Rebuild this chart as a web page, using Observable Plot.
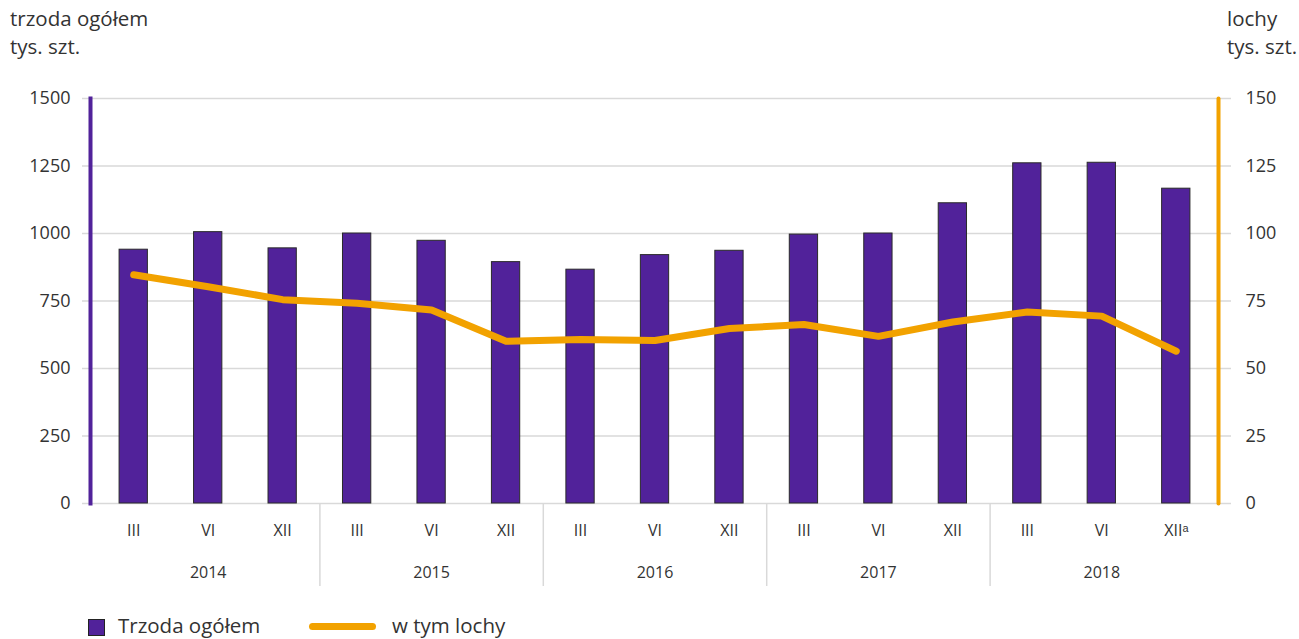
<!DOCTYPE html>
<html><head><meta charset="utf-8">
<script src="https://cdn.jsdelivr.net/npm/d3@7"></script>
<script src="https://cdn.jsdelivr.net/npm/@observablehq/plot@0.6"></script>
<style>
body{margin:0;background:#fff;font-family:"Open Sans",sans-serif;color:#333;}
#wrap{width:1299px;height:639px;overflow:hidden;}
#hdr{position:relative;height:70px;}
.h{position:absolute;top:4px;font-size:20.5px;line-height:28px;color:#333;}
#legend{position:relative;height:41px;}
.sw{position:absolute;top:21px;left:88px;width:15px;height:15px;background:#51229a;border:1px solid #222;}
.lt{position:absolute;top:14px;font-size:20.5px;line-height:26px;color:#333;}
.ol{position:absolute;top:25px;left:309px;width:67px;height:7px;border-radius:4px;background:#f2a200;}
</style></head><body>
<div id="wrap">
<div id="hdr">
  <div class="h" style="left:10px">trzoda ogółem<br>tys. szt.</div>
  <div class="h" style="left:1227px">lochy<br>tys. szt.</div>
</div>
<div id="chart"></div>
<div id="legend">
  <div class="sw"></div><div class="lt" style="left:118px">Trzoda ogółem</div>
  <div class="ol"></div><div class="lt" style="left:392px">w tym lochy</div>
</div>
</div>
<script>
const years = ["2014","2015","2016","2017","2018"];
const months = ["III","VI","XII"];
const lastLabel = "XII\u1D43";
const trzoda = [940,1005,945,1000,973,894,866,920,936,996,1000,1112,1260,1262,1166];
const lochy = [84.7,80.3,75.5,74.2,71.7,60.1,60.7,60.4,64.8,66.3,61.9,67.2,70.9,69.4,56.4];
const leftTicks = [0,250,500,750,1000,1250,1500];
const rightTicks = [0,25,50,75,100,125,150];

const PURPLE = "#51229a", ORANGE = "#f2a200";
const data = [];
years.forEach((y, yi) => months.forEach((m, mi) => {
  const i = yi*3 + mi;
  data.push({key: y + "-" + m, year: y, month: m, trzoda: trzoda[i], lochy: lochy[i]});
}));
const keys = data.map(d => d.key);
const labelOf = Object.fromEntries(data.map((d, i) => [d.key, i === data.length-1 ? lastLabel : d.month]));
const yearMid = years.map(y => ({year: y, key: y + "-VI"}));
const seps = years.slice(0, -1).map(y => ({key: y + "-XII"}));
const step = (1299 - 96 - 86) / keys.length;

const chart = Plot.plot({
  width: 1299, height: 528,
  marginLeft: 96, marginRight: 86, marginTop: 28, marginBottom: 95,
  style: {fontFamily: "'Open Sans', sans-serif", color: "#333", background: "#fff"},
  x: {type: "band", domain: keys, paddingInner: 0.62, paddingOuter: 0.31, round: false, label: null},
  y: {domain: [0, 1500], label: null},
  marks: [
    Plot.ruleY(leftTicks, {stroke: "#d9d9d9", strokeWidth: 1.5, insetLeft: -14, insetRight: -18}),
    Plot.barY(data, {x: "key", y: "trzoda", fill: PURPLE, stroke: "#2a2a2a", strokeWidth: 1}),
    Plot.line(data, {x: "key", y: d => d.lochy * 10, stroke: ORANGE, strokeWidth: 7, strokeLinecap: "round", strokeLinejoin: "round"}),
    Plot.ruleX(seps, {x: "key", dx: step/2, stroke: "#d9d9d9", strokeWidth: 1.5, y1: 0, y2: 0, insetBottom: -83}),
    Plot.frame({anchor: "left", stroke: PURPLE, strokeWidth: 4, dx: -6}),
    Plot.frame({anchor: "right", stroke: ORANGE, strokeWidth: 4, dx: 5, strokeLinecap: "round"}),
    Plot.axisX({tickSize: 0, tickPadding: 21, fontSize: 16, tickFormat: k => labelOf[k], label: null}),
    Plot.axisY({anchor: "left", ticks: leftTicks, tickSize: 0, tickPadding: 26, fontSize: 18, tickFormat: d => String(d), label: null}),
    Plot.axisY({anchor: "right", ticks: leftTicks, tickSize: 0, tickPadding: 32, fontSize: 18, tickFormat: d => String(rightTicks[leftTicks.indexOf(d)]), label: null}),
    Plot.text(yearMid, {x: "key", text: "year", frameAnchor: "bottom", dy: 74, fontSize: 16, fill: "#333"})
  ]
});
document.getElementById("chart").appendChild(chart);
</script>
</body></html>
